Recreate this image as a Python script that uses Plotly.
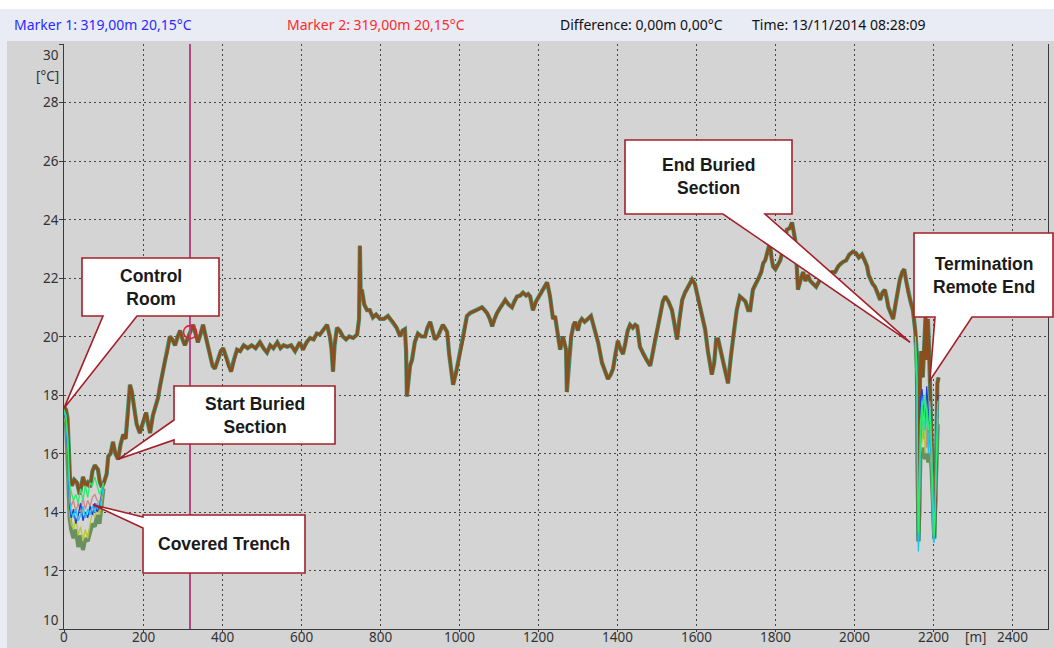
import plotly.graph_objects as go

# ---------------- data ----------------
distance_m = [0, 5, 9, 12, 15, 20, 26, 33, 40, 48, 55, 60, 66, 72, 78, 86, 91, 96, 101, 108,
              112, 118, 124, 130, 137, 143, 150, 156, 161, 167, 172, 178, 184, 192, 200, 208, 213, 218, 225, 232,
              238, 243, 250, 256, 262, 268, 274, 281, 288, 294, 300, 306, 312, 319, 327, 333, 339, 346, 352, 357,
              362, 370, 376, 382, 390, 397, 403, 410, 416, 423, 430, 438, 446, 455, 465, 475, 485, 496, 505, 514,
              522, 530, 540, 548, 556, 565, 575, 585, 597, 605, 614, 623, 632, 640, 648, 656, 666, 673, 677, 681,
              685, 691, 698, 706, 714, 722, 732, 742, 747, 749, 751, 754, 760, 767, 774, 782, 790, 800, 810, 820,
              826, 833, 842, 851, 857, 863, 866, 868, 872, 876, 881, 888, 896, 905, 914, 920, 927, 933, 939, 946,
              952, 959, 964, 970, 975, 980, 985, 993, 1003, 1010, 1020, 1028, 1036, 1045, 1052, 1058, 1065, 1071, 1078, 1084,
              1090, 1096, 1105, 1111, 1117, 1125, 1134, 1140, 1147, 1155, 1162, 1170, 1175, 1180, 1187, 1195, 1205, 1213, 1223, 1230,
              1238, 1243, 1248, 1256, 1263, 1267, 1271, 1273, 1278, 1284, 1290, 1294, 1301, 1306, 1311, 1318, 1326, 1334, 1342, 1352,
              1362, 1370, 1377, 1384, 1390, 1396, 1402, 1408, 1415, 1420, 1427, 1433, 1440, 1446, 1451, 1458, 1466, 1475, 1484, 1490,
              1496, 1503, 1510, 1516, 1522, 1530, 1539, 1545, 1552, 1558, 1565, 1572, 1580, 1590, 1597, 1605, 1613, 1623, 1630, 1636,
              1640, 1646, 1651, 1656, 1662, 1668, 1674, 1681, 1688, 1695, 1703, 1711, 1718, 1725, 1732, 1737, 1744, 1750, 1757, 1765,
              1770, 1775, 1781, 1787, 1791, 1795, 1801, 1808, 1813, 1818, 1824, 1830, 1837, 1843, 1847, 1851, 1855, 1858, 1864, 1871,
              1877, 1883, 1889, 1896, 1904, 1912, 1920, 1928, 1936, 1944, 1952, 1960, 1966, 1972, 1980, 1988, 1997, 2005, 2012, 2020,
              2027, 2033, 2037, 2041, 2047, 2053, 2060, 2066, 2072, 2078, 2083, 2087, 2093, 2099, 2105, 2111, 2116, 2122, 2127, 2132,
              2137, 2143, 2149, 2155, 2159, 2161, 2163, 2165, 2167, 2170, 2174, 2178, 2181, 2184, 2187, 2190, 2194, 2198, 2201, 2203,
              2206, 2208, 2211, 2214]
temperature_c = [17.6, 17.5, 17.2, 16.2, 15.2, 14.9, 15.1, 15.0, 14.6, 15.2, 14.9, 15.0, 14.85, 15.4, 15.6, 15.45, 15.0, 14.85, 15.0, 15.3,
                 15.9, 16.0, 16.4, 16.0, 15.8, 16.3, 16.65, 16.5, 17.2, 18.35, 18.1, 17.5, 17.0, 16.7, 17.1, 17.4, 17.0, 16.7, 17.3, 17.6,
                 17.9, 18.3, 18.8, 19.2, 19.5, 20.0, 19.9, 19.7, 20.0, 20.2, 19.9, 19.7, 19.9, 20.15, 20.4, 20.1, 19.8, 20.1, 20.4, 20.1,
                 19.8, 19.4, 19.0, 18.9, 19.2, 19.5, 19.6, 19.3, 19.0, 18.8, 19.2, 19.55, 19.5, 19.7, 19.6, 19.7, 19.6, 19.8, 19.6, 19.45,
                 19.7, 19.6, 19.8, 19.6, 19.7, 19.65, 19.7, 19.5, 19.8, 19.55, 19.8, 19.95, 19.9, 20.1, 20.07, 20.2, 20.4, 20.0, 19.6, 18.8,
                 19.7, 20.3, 20.2, 20.0, 19.9, 20.0, 19.95, 20.07, 20.6, 23.1, 21.5, 21.6, 21.1, 20.9, 20.9, 20.65, 20.75, 20.6, 20.6, 20.7,
                 20.6, 20.5, 20.3, 20.0, 20.2, 20.25, 19.5, 17.95, 18.5, 19.0, 19.2, 19.8, 20.1, 20.0, 20.0, 20.3, 20.5, 20.2, 19.9, 20.0,
                 20.2, 20.4, 20.3, 20.15, 19.4, 18.8, 18.35, 18.8, 19.45, 19.9, 20.7, 20.8, 20.85, 20.9, 20.95, 21.0, 20.9, 20.8, 20.6, 20.35,
                 20.6, 20.8, 21.0, 21.1, 21.25, 21.1, 21.0, 21.2, 21.37, 21.4, 21.5, 21.4, 21.45, 21.37, 20.9, 21.2, 21.43, 21.6, 21.85, 21.4,
                 20.6, 20.7, 20.2, 19.55, 20.0, 19.8, 19.55, 18.1, 19.2, 20.0, 20.4, 20.5, 20.2, 20.5, 20.6, 20.5, 20.6, 20.7, 20.3, 19.8,
                 19.1, 18.8, 18.55, 18.7, 18.9, 19.4, 19.85, 19.6, 19.4, 19.7, 20.2, 20.4, 20.3, 20.4, 20.35, 19.65, 19.4, 19.2, 19.0, 19.4,
                 19.9, 20.3, 20.8, 21.2, 21.37, 21.2, 20.9, 20.5, 19.9, 20.6, 21.25, 21.5, 21.7, 21.95, 21.8, 21.3, 20.8, 20.25, 19.5, 19.0,
                 18.7, 19.1, 19.9, 19.9, 19.5, 19.2, 18.8, 18.4, 19.3, 20.1, 20.9, 21.37, 21.3, 21.2, 20.9, 20.9, 21.6, 21.8, 21.95, 22.2,
                 22.5, 22.6, 22.9, 23.2, 22.7, 22.4, 22.3, 22.5, 22.6, 22.85, 23.2, 23.65, 23.7, 23.9, 23.6, 23.3, 22.4, 21.6, 21.9, 22.2,
                 21.9, 22.1, 21.9, 21.8, 21.7, 21.9, 22.0, 22.2, 22.1, 22.2, 22.2, 22.4, 22.5, 22.55, 22.6, 22.8, 22.9, 22.85, 22.7, 22.8,
                 22.6, 22.4, 22.1, 21.95, 21.8, 21.7, 21.5, 21.25, 21.5, 21.6, 21.3, 21.0, 20.8, 20.6, 21.1, 21.6, 21.95, 22.2, 22.3, 21.9,
                 21.5, 21.2, 20.9, 20.2, 19.4, 16.5, 13.0, 14.0, 18.8, 19.5, 18.6, 19.8, 20.7, 19.2, 20.6, 19.5, 17.8, 16.0, 13.8, 13.1,
                 14.5, 16.8, 18.4, 18.6]

# noisy traces near the control room (covered trench)
trench_m = [0, 5, 10, 14, 18, 24, 30, 36, 42, 48, 54, 60, 66, 72, 78, 84, 90, 95, 100]
trench_band = [17.3, 17.0, 15.4, 13.8, 13.4, 13.1, 13.4, 12.8, 13.2, 12.7, 13.1, 13.0, 13.3, 13.6, 13.5, 13.9, 13.6, 14.2, 14.8]
trench_green = [17.5, 17.3, 16.5, 15.0, 14.7, 14.4, 14.6, 14.3, 14.8, 14.4, 14.9, 14.5, 15.0, 14.9, 15.2, 14.9, 14.6, 14.8, 15.0]
trench_cyan = [17.4, 17.2, 16.0, 14.4, 14.0, 13.8, 14.1, 13.7, 13.9, 14.2, 13.8, 14.1, 13.9, 14.2, 14.0, 14.3, 14.1, 14.5, 14.9]
trench_blue = [17.4, 17.1, 15.8, 14.2, 13.8, 14.1, 13.6, 13.9, 14.3, 13.7, 14.0, 13.8, 14.2, 13.9, 14.3, 14.0, 14.2, 14.6, 14.9]
trench_yellow = [17.3, 17.0, 15.6, 14.0, 13.6, 13.4, 13.8, 13.2, 13.5, 13.0, 13.4, 13.1, 13.6, 14.0, 13.8, 14.2, 13.9, 14.4, 14.8]
trench_pink = [17.4, 17.1, 15.9, 14.5, 14.2, 14.4, 14.0, 14.3, 14.0, 14.5, 14.1, 14.4, 14.2, 14.5, 14.6, 14.4, 14.3, 14.7, 15.0]

# noisy traces at the remote end
term_m = [2155, 2159, 2161, 2163, 2165, 2168, 2172, 2176, 2180, 2184, 2188, 2192, 2196, 2199, 2201, 2203, 2205, 2208, 2212]
term_band = [20.0, 18.9, 15.2, 13.0, 14.0, 15.8, 16.0, 16.2, 15.8, 16.0, 15.7, 16.0, 15.5, 14.2, 13.3, 13.1, 14.0, 15.4, 17.0]
term_green = [20.0, 19.0, 15.5, 13.3, 14.5, 17.0, 17.8, 16.5, 18.0, 17.2, 16.8, 17.6, 16.2, 15.0, 13.6, 13.2, 14.0, 16.0, 17.8]
term_cyan = [19.8, 18.5, 14.5, 12.65, 13.5, 16.5, 17.5, 18.0, 16.8, 17.5, 16.0, 17.0, 15.6, 14.0, 13.0, 12.95, 13.8, 15.8, 17.5]
term_blue = [19.9, 18.8, 15.0, 13.2, 14.2, 17.8, 18.2, 17.5, 17.0, 18.3, 17.2, 16.5, 15.9, 14.5, 13.5, 13.4, 14.3, 16.4, 18.0]
term_yellow = [19.7, 18.3, 14.0, 12.9, 13.8, 16.0, 16.4, 17.0, 16.0, 16.6, 17.4, 16.2, 15.5, 13.8, 13.2, 13.2, 14.2, 15.5, 17.2]
term_pink = [19.8, 18.6, 14.8, 13.5, 14.8, 17.2, 16.8, 17.9, 17.4, 16.2, 16.5, 17.8, 16.4, 14.8, 13.8, 13.6, 14.6, 16.6, 17.9]

marker_m = 319.0
marker_c = 20.15

x_ticks = [0, 200, 400, 600, 800, 1000, 1200, 1400, 1600, 1800, 2000, 2200, 2400]
y_ticks = [10, 12, 14, 16, 18, 20, 22, 24, 26, 28, 30]

header_texts = ["Marker 1: 319,00m 20,15°C", "Marker 2: 319,00m 20,15°C",
                "Difference: 0,00m 0,00°C", "Time: 13/11/2014 08:28:09"]

callout_labels = ["Control<br>Room", "Start Buried<br>Section", "Covered Trench",
                  "End Buried<br>Section", "Termination<br>Remote End"]
callout_tips = [(0, 17.55), (137, 15.8), (73, 14.25), (2142, 19.8), (2192, 18.5)]

# ---------------- layout geometry ----------------
W, H = 1054, 648
L, R, T, B = 64, 1048, 44, 629
X_RANGE = [0, 2491]
Y_RANGE = [10, 30]


def px2paper(px, py):
    return (px - L) / (R - L), (B - py) / (B - T)


def data2px(x, y):
    px = L + (x - X_RANGE[0]) / (X_RANGE[1] - X_RANGE[0]) * (R - L)
    py = B - (y - Y_RANGE[0]) / (Y_RANGE[1] - Y_RANGE[0]) * (B - T)
    return px, py


fig = go.Figure()

# trench / remote end wide grey-green bands
for xs, ys in [(trench_m, trench_band), (term_m, term_band)]:
    fig.add_trace(go.Scatter(x=xs, y=ys, mode="lines", line=dict(color="#6a9060", width=4),
                             hoverinfo="skip", showlegend=False))

# main profile: green halo + brown line
fig.add_trace(go.Scatter(x=distance_m, y=temperature_c, mode="lines",
                         line=dict(color="#3f9070", width=4.2), hoverinfo="skip", showlegend=False))
fig.add_trace(go.Scatter(x=distance_m, y=temperature_c, mode="lines",
                         line=dict(color="#8a4f1c", width=2.8), showlegend=False))

colored = [("#b9c934", trench_yellow, term_yellow), ("#c98a84", trench_pink, term_pink),
           ("#1e3fe0", trench_blue, term_blue), ("#1cc4ea", trench_cyan, term_cyan),
           ("#26f06a", trench_green, term_green)]
for col, ytr, yte in colored:
    fig.add_trace(go.Scatter(x=trench_m, y=ytr, mode="lines", line=dict(color=col, width=1.3),
                             hoverinfo="skip", showlegend=False))
    fig.add_trace(go.Scatter(x=term_m, y=yte, mode="lines", line=dict(color=col, width=1.3),
                             hoverinfo="skip", showlegend=False))

# marker line and marker circle
fig.add_trace(go.Scatter(x=[marker_m, marker_m], y=Y_RANGE, mode="lines",
                         line=dict(color="#b4487f", width=2), hoverinfo="skip", showlegend=False))
fig.add_trace(go.Scatter(x=[marker_m], y=[marker_c], mode="markers",
                         marker=dict(symbol="circle-open", size=13, color="#e0203f", line=dict(width=1.6)),
                         showlegend=False))

shapes = []
# background panels
x0, y0 = px2paper(0, 0)
x1, y1 = px2paper(W, 9)
shapes.append(dict(type="rect", xref="paper", yref="paper", x0=x0, y0=y0, x1=x1, y1=y1,
                   fillcolor="#ffffff", line=dict(width=0), layer="below"))
x0, y0 = px2paper(7, 41)
x1, y1 = px2paper(W, H)
shapes.append(dict(type="rect", xref="paper", yref="paper", x0=x0, y0=y0, x1=x1, y1=y1,
                   fillcolor="#d4d4d4", line=dict(width=0), layer="below"))

# callout boxes (pixel layout) with tails pointing to data
boxes = [(82, 258, 219, 316), (174, 386, 335, 444), (143, 515, 305, 573),
         (625, 140, 792, 214), (914, 233, 1053, 317)]
# tail bases: side, a, b
bases = [("bottom", 103, 137), ("left", 420, 440), ("left", 517, 528),
         ("bottom", 723, 765), ("bottom", 935, 972)]

annotations = []
for (bx0, by0, bx1, by1), (side, a, b), tip, label in zip(boxes, bases, callout_tips, callout_labels):
    tx, ty = data2px(*tip)
    if side == "bottom":
        pts = [(bx0, by0), (bx1, by0), (bx1, by1), (b, by1), (tx, ty), (a, by1), (bx0, by1)]
    else:
        pts = [(bx0, by0), (bx1, by0), (bx1, by1), (bx0, by1), (bx0, b), (tx, ty), (bx0, a)]
    pp = [px2paper(*p) for p in pts]
    path = "M " + " L ".join(f"{p[0]:.5f},{p[1]:.5f}" for p in pp) + " Z"
    shapes.append(dict(type="path", xref="paper", yref="paper", path=path,
                       fillcolor="#ffffff", line=dict(color="#a3202a", width=1.6), layer="above"))
    cx, cy = px2paper((bx0 + bx1) / 2, (by0 + by1) / 2)
    annotations.append(dict(xref="paper", yref="paper", x=cx, y=cy, text=f"<b>{label}</b>",
                            showarrow=False, xanchor="center", yanchor="middle",
                            font=dict(family="Liberation Sans, Arial", size=17.5, color="#1a1a1a")))

# header texts
header_pos = [12, 285, 558, 750]
header_cols = ["#2a2aff", "#ff2a2a", "#111111", "#111111"]
for txt, hx, hc in zip(header_texts, header_pos, header_cols):
    ax, ay = px2paper(hx, 25)
    annotations.append(dict(xref="paper", yref="paper", x=ax, y=ay, text=txt, showarrow=False,
                            xanchor="left", yanchor="middle",
                            font=dict(family="Noto Sans, Open Sans", size=14, color=hc)))

tick_font = dict(family="Noto Sans, Open Sans", size=13.5, color="#333333")

# x tick labels (drawn at the axis positions of the tick values)
_, xlab_y = px2paper(0, 637)
for v in x_ticks:
    annotations.append(dict(xref="x", yref="paper", x=v, y=xlab_y, text=str(v), showarrow=False,
                            xanchor="center", yanchor="middle", font=tick_font))
# y tick labels (end labels kept inside the frame as in the original)
for v in y_ticks:
    _, py = data2px(0, v)
    py = min(max(py, T + 11), B - 9)
    lx, ly = px2paper(61, py)
    annotations.append(dict(xref="paper", yref="paper", x=lx, y=ly, text=str(v), showarrow=False,
                            xanchor="right", yanchor="middle", font=tick_font))

# unit labels
ax, ay = px2paper(61, 76)
annotations.append(dict(xref="paper", yref="paper", x=ax, y=ay, text="[°C]", showarrow=False,
                        xanchor="right", yanchor="middle", font=tick_font))
ax, ay = px2paper(976, 637)
annotations.append(dict(xref="paper", yref="paper", x=ax, y=ay, text="[m]", showarrow=False,
                        xanchor="center", yanchor="middle", font=tick_font))

fig.update_layout(
    width=W, height=H, autosize=False,
    margin=dict(l=L, r=W - R, t=T, b=H - B, pad=0),
    paper_bgcolor="#e9ebf5", plot_bgcolor="#c2c2c2",
    showlegend=False,
    shapes=shapes, annotations=annotations,
    xaxis=dict(range=X_RANGE, tickvals=x_ticks, showticklabels=False,
               showgrid=True, gridcolor="#454545", griddash="2px,3px", gridwidth=1,
               zeroline=False, showline=True, linecolor="#3a3a3a", linewidth=1,
               ticks="outside", ticklen=2, tickcolor="#3a3a3a", automargin=False),
    yaxis=dict(range=Y_RANGE, tickvals=y_ticks, showticklabels=False,
               showgrid=True, gridcolor="#454545", griddash="2px,3px", gridwidth=1,
               zeroline=False, showline=True, linecolor="#3a3a3a", linewidth=1, mirror=True,
               ticks="outside", ticklen=4, tickcolor="#3a3a3a", automargin=False),
)

fig.write_html("out.html", config={"displayModeBar": False},
               post_script="document.body.style.margin='0';document.body.style.overflow='hidden';")
